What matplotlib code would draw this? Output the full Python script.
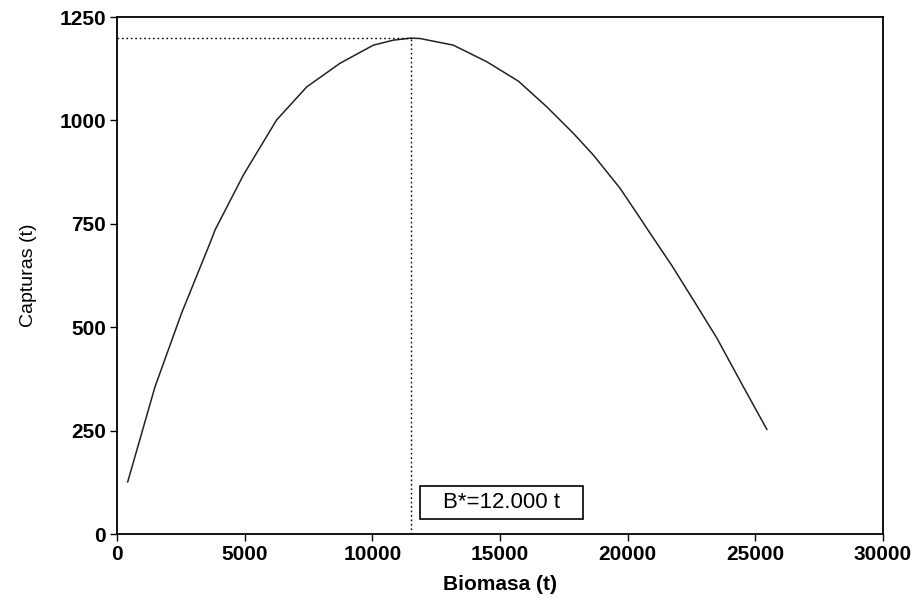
import matplotlib.pyplot as plt
from matplotlib.patches import Rectangle

plt.rcParams['font.family'] = ['Liberation Sans', 'DejaVu Sans']

# Curva de capturas en función de la biomasa
biomasa = [420, 1490, 2530, 3640, 3840, 4950, 6250, 7430, 8730, 10040,
           10820, 11500, 11870, 13170, 14480, 15720, 16830, 17870, 18660,
           19700, 20420, 20880, 21720, 22570, 23490, 24530, 25450]
capturas = [126, 356, 534, 703, 735, 868, 1001, 1081, 1138, 1182,
            1194, 1199, 1198, 1182, 1142, 1095, 1033, 969, 916,
            836, 770, 727, 650, 566, 474, 356, 253]

b_opt = 11500
c_max = 1200
etiqueta = 'B*=12.000 t'

x_ticks = [0, 5000, 10000, 15000, 20000, 25000, 30000]
y_ticks = [0, 250, 500, 750, 1000, 1250]

fig = plt.figure(figsize=(9.16, 6.08), dpi=100)
ax = fig.add_axes([0.1277, 0.1217, 0.8363, 0.8503])

ax.plot(biomasa, capturas, color='#222222', linewidth=1.1, solid_joinstyle='round')

# Líneas de referencia punteadas hacia el máximo
ax.plot([0, b_opt], [c_max, c_max], color='black', linestyle=(0, (1.2, 2)), linewidth=1)
ax.plot([b_opt, b_opt], [0, c_max], color='black', linestyle=(0, (1.2, 2)), linewidth=1)

# Recuadro con el valor de B*
ax.add_patch(Rectangle((11870, 36), 6380, 80, facecolor='white',
                       edgecolor='black', linewidth=1.2, zorder=3))
ax.text(15060, 76, etiqueta, ha='center', va='center', fontsize=16, zorder=4)

ax.set_xlim(0, 30000)
ax.set_ylim(0, 1250)
ax.set_xticks(x_ticks)
ax.set_yticks(y_ticks)
ax.tick_params(direction='out', length=5, width=1, labelsize=15, pad=3)
for lab in ax.get_xticklabels() + ax.get_yticklabels():
    lab.set_fontweight('bold')
for s in ax.spines.values():
    s.set_linewidth(1.3)

ax.set_xlabel('Biomasa (t)', fontsize=15, fontweight='bold', labelpad=8)
ax.set_ylabel('Capturas (t)', fontsize=14, labelpad=16)

fig.savefig('out.png', dpi=100)
